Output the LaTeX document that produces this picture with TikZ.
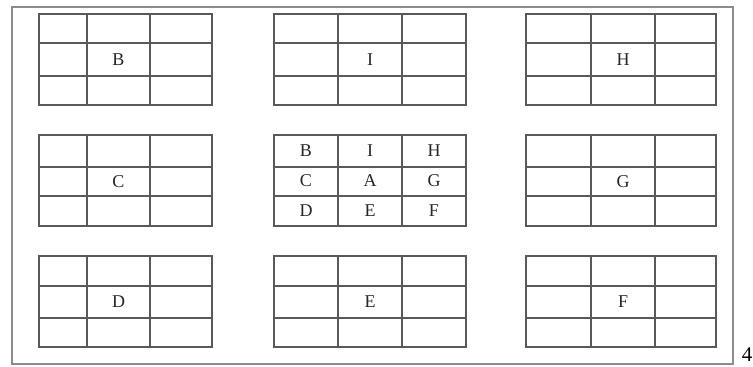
\documentclass[tikz,border=0pt]{standalone}
\usepackage{fontspec}
\setmainfont{Liberation Serif}
\usepackage{tikz}
\begin{document}
\begin{tikzpicture}[x=1pt, y=-1pt,
        every node/.style={font=\fontsize{18}{21}\selectfont, text=black!85, inner sep=0pt},
        gridline/.style={draw=black!65, line width=1.1pt},
        frameline/.style={draw=black!45, line width=1.6pt}]
      \useasboundingbox (0,0) rectangle (753,367);
      \draw[frameline] (12,7) rectangle (733,364);
      % the eight outer blocks
      \foreach \xa/\xb/\xc/\xd/\ya/\yb/\yc/\yd/\lab in {
          39/87/150/212/14/43/76/105/B,
          274/338/402/466/14/43/76/105/I,
          526/591/655/716/14/43/76/105/H,
          39/87/150/212/135/167/196/226/C,
          526/591/655/716/135/167/196/226/G,
          39/87/150/212/256/286/318/347/D,
          274/338/402/466/256/286/318/347/E,
          526/591/655/716/256/286/318/347/F}{
        \draw[gridline] (\xa,\ya) rectangle (\xd,\yd);
        \draw[gridline] (\xb,\ya) -- (\xb,\yd) (\xc,\ya) -- (\xc,\yd)
                        (\xa,\yb) -- (\xd,\yb) (\xa,\yc) -- (\xd,\yc);
        \node (lbl\lab) at ({(\xb+\xc)/2},{(\yb+\yc)/2}) {\lab};
      }
      % the centre block
      \draw[gridline] (274,135) rectangle (466,226);
      \draw[gridline] (338,135) -- (338,226) (402,135) -- (402,226)
                      (274,167) -- (466,167) (274,196) -- (466,196);
      \foreach \lab/\i/\j in {B/0/0, I/1/0, H/2/0, C/0/1, A/1/1, G/2/1, D/0/2, E/1/2, F/2/2}{
        \node (c\lab) at ({306+64*\i},{151+30*\j}) {\lab};
      }
      \node[text=black, font=\fontsize{21}{24}\selectfont] (pagenum) at (747,355) {4};
    \end{tikzpicture}
\end{document}
